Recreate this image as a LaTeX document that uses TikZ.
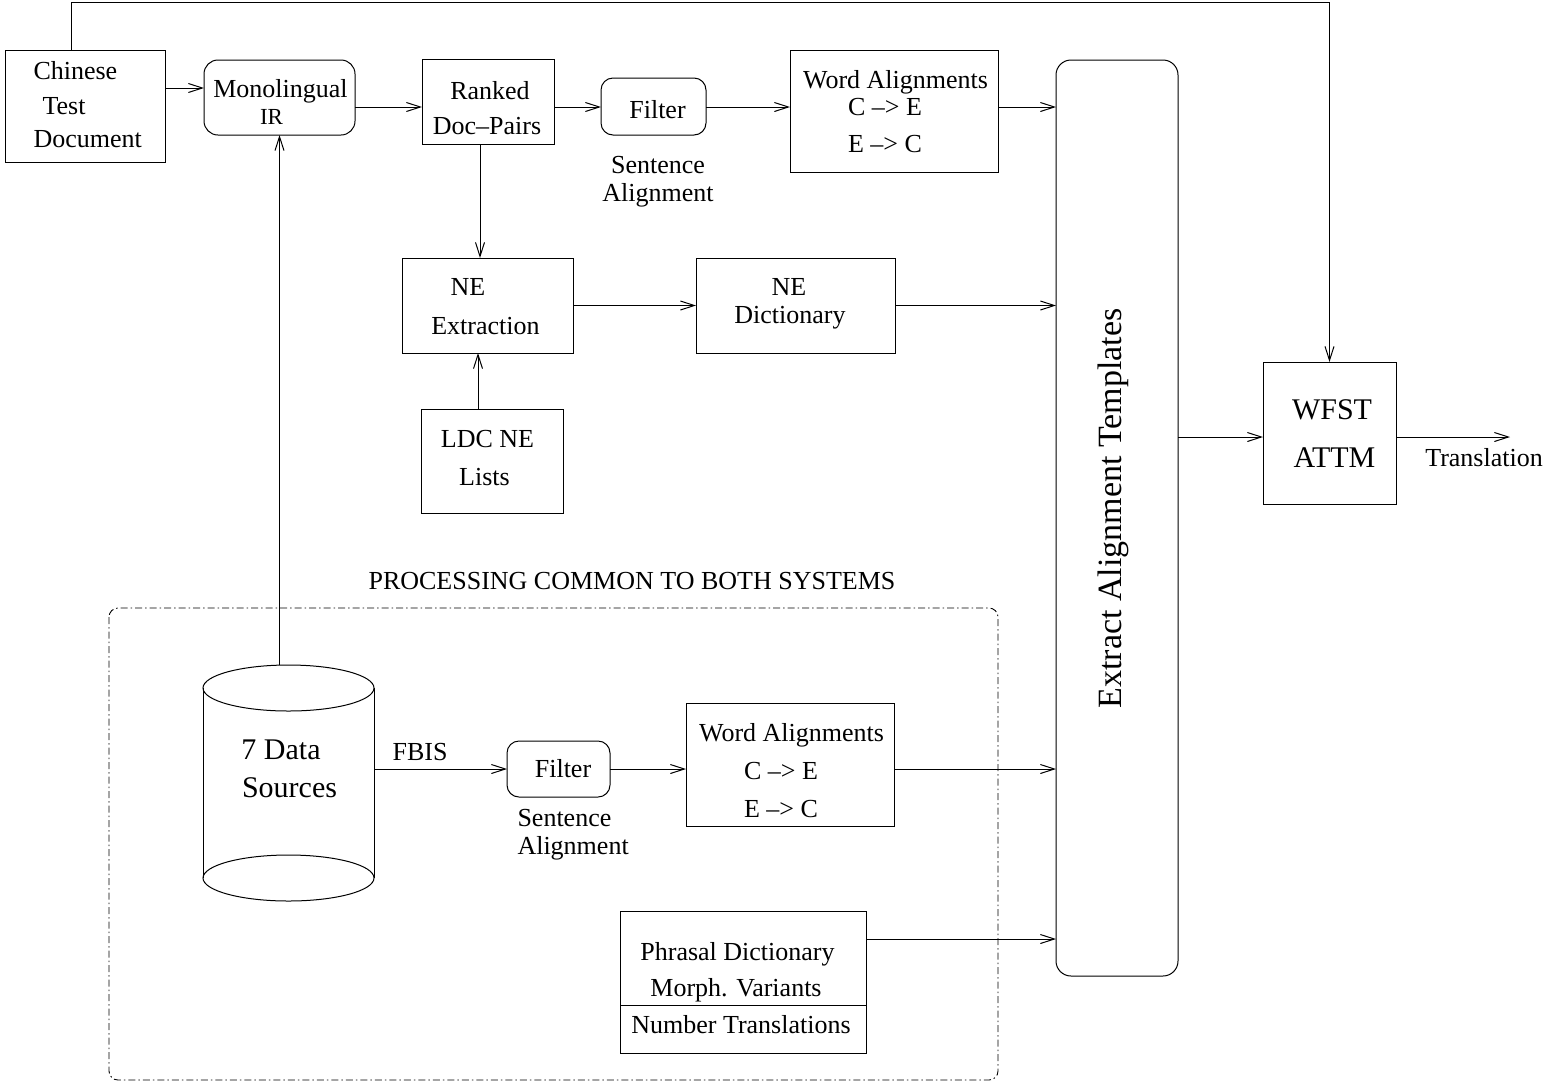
\documentclass[tikz,border=0pt]{standalone}
\usepackage{fontspec}
\setmainfont{Liberation Serif}
\usetikzlibrary{arrows.meta,calc}
\begin{document}
\begin{tikzpicture}[x=1pt,y=-1pt,
  line width=1pt,
  >={Straight Barb[length=14pt,width=9pt]},
  box/.style={draw, inner sep=0pt, outer sep=0pt},
  rbox/.style={box, rounded corners=14pt},
  txt/.style={inner sep=0pt, font=\fontsize{26}{30}\selectfont, text height=17pt, text depth=0pt},
  bigtxt/.style={txt, font=\fontsize{30}{36}\selectfont, text height=19.8pt},
  smalltxt/.style={txt, font=\fontsize{23}{27}\selectfont, text height=15.2pt},
  exttxt/.style={txt, font=\fontsize{34}{40}\selectfont, text height=22.5pt},
  grp/.style={line width=0.9pt, dash pattern=on 7pt off 3pt on 1.5pt off 3pt, rounded corners=9pt}
]
\useasboundingbox (0,0) rectangle (1546,1085);

% ---- boxes ----
\node[box, minimum width=160, minimum height=112] (ctd) at (85,106) {};
\node[rbox, minimum width=151, minimum height=75] (mono) at (279.5,97.5) {};
\node[box, minimum width=132, minimum height=85] (rank) at (488,101.5) {};
\node[rbox, rounded corners=12pt, minimum width=105, minimum height=57] (filt1) at (653.5,106.5) {};
\node[box, minimum width=208, minimum height=122] (wa1) at (894,111) {};
\node[rbox, rounded corners=15pt, minimum width=122, minimum height=916] (ext) at (1117,518) {};
\node[box, minimum width=133, minimum height=142] (wfst) at (1329.5,433) {};
\node[box, minimum width=171, minimum height=95] (nex) at (487.5,305.5) {};
\node[box, minimum width=199, minimum height=95] (ned) at (795.5,305.5) {};
\node[box, minimum width=142, minimum height=104] (ldc) at (492,461) {};
\node[inner sep=0pt, outer sep=0pt, minimum width=171, minimum height=236] (ds) at (288.5,783) {};
\node[rbox, rounded corners=12pt, minimum width=103, minimum height=56] (filt2) at (558.5,769) {};
\node[box, minimum width=208, minimum height=123] (wa2) at (790,764.5) {};
\node[box, minimum width=246, minimum height=142] (phr) at (743,982) {};
\draw (phr.west |- 0,1005) -- (phr.east |- 0,1005);

% cylinder
\draw (288.5,688) ellipse [x radius=85.5, y radius=23];
\draw (288.5,878) ellipse [x radius=85.5, y radius=23];
\draw (203,688) -- (203,878);
\draw (374,688) -- (374,878);

% group
\draw[grp] (109,608) rectangle (998,1080);

% ---- texts ----
\node[txt, anchor=west] (t1) at (33,70.5) {Chinese};
\node[txt, anchor=west] (t2) at (42,105.5) {Test};
\node[txt, anchor=west] (t3) at (33,139) {Document};
\node[txt] (t4) at (280.5,88.5) {Monolingual};
\node[smalltxt] (t5) at (271.5,116.5) {IR};
\node[txt] (t6) at (490,90.5) {Ranked};
\node[txt] (t7) at (487,126) {Doc–Pairs};
\node[txt] (t8) at (657.5,109.5) {Filter};
\node[txt] (t9) at (658,164.5) {Sentence};
\node[txt] (t10) at (658,192.5) {Alignment};
\node[txt] (t11) at (895.5,79.5) {Word Alignments};
\node[txt] (t12) at (885,107) {C –> E};
\node[txt] (t13) at (885,144) {E –> C};
\node[exttxt, rotate=90] (t14) at (1110,508.5) {Extract Alignment Templates};
\node[bigtxt] (t15) at (1332,409.5) {WFST};
\node[bigtxt] (t16) at (1334.5,457.5) {ATTM};
\node[txt] (t17) at (1484,457.5) {Translation};
\node[txt] (t18) at (468,287) {NE};
\node[txt] (t19) at (485.5,325.5) {Extraction};
\node[txt] (t20) at (789,287) {NE};
\node[txt] (t21) at (790,315) {Dictionary};
\node[txt] (t22) at (487.5,438.5) {LDC NE};
\node[txt] (t23) at (484.5,476.5) {Lists};
\node[txt] (t24) at (632,580.5) {PROCESSING COMMON TO BOTH SYSTEMS};
\node[bigtxt] (t25) at (281,750) {7 Data};
\node[bigtxt] (t26) at (289.5,787.5) {Sources};
\node[txt] (t27) at (420,751.5) {FBIS};
\node[txt] (t28) at (563,768.5) {Filter};
\node[txt, anchor=west] (t29) at (517,818) {Sentence};
\node[txt, anchor=west] (t30) at (517,845.5) {Alignment};
\node[txt] (t31) at (791.5,732.5) {Word Alignments};
\node[txt] (t32) at (781,770.5) {C –> E};
\node[txt] (t33) at (781,808.5) {E –> C};
\node[txt] (t34) at (737.5,951.5) {Phrasal Dictionary};
\node[txt] (t35) at (736,987.5) {Morph. Variants};
\node[txt] (t36) at (741,1025) {Number Translations};

% ---- connectors ----
\coordinate (tl) at (71,2);
\coordinate (out) at (1510,437);
\draw[->] (tl |- ctd.north) -- (tl) -| (wfst.north);
\draw[->] (ctd.east |- 0,88) -- (mono.west |- 0,88);
\draw[->] (mono.east |- 0,107) -- (rank.west |- 0,107);
\draw[->] (rank.east |- 0,107) -- (filt1.west |- 0,107);
\draw[->] (filt1.east |- 0,107) -- (wa1.west |- 0,107);
\draw[->] (wa1.east |- 0,107) -- (ext.west |- 0,107);
\draw[->] (rank.south -| 480,0) -- (nex.north -| 480,0);
\draw[->] (nex.east) -- (ned.west);
\draw[->] (ned.east) -- (ned.east -| ext.west);
\draw[->] (ldc.north -| 478,0) -- (nex.south -| 478,0);
\draw[->] (ext.east |- 0,437) -- (wfst.west |- 0,437);
\draw[->] (wfst.east |- out) -- (out);
\draw[->] (mono.south |- ds.north) -- (mono.south);
\draw[->] (ds.east |- filt2.west) -- (filt2.west);
\draw[->] (filt2.east) -- (wa2.west |- filt2.east);
\draw[->] (wa2.east |- 0,769) -- (ext.west |- 0,769);
\draw[->] (phr.east |- 0,939) -- (ext.west |- 0,939);
\end{tikzpicture}
\end{document}
